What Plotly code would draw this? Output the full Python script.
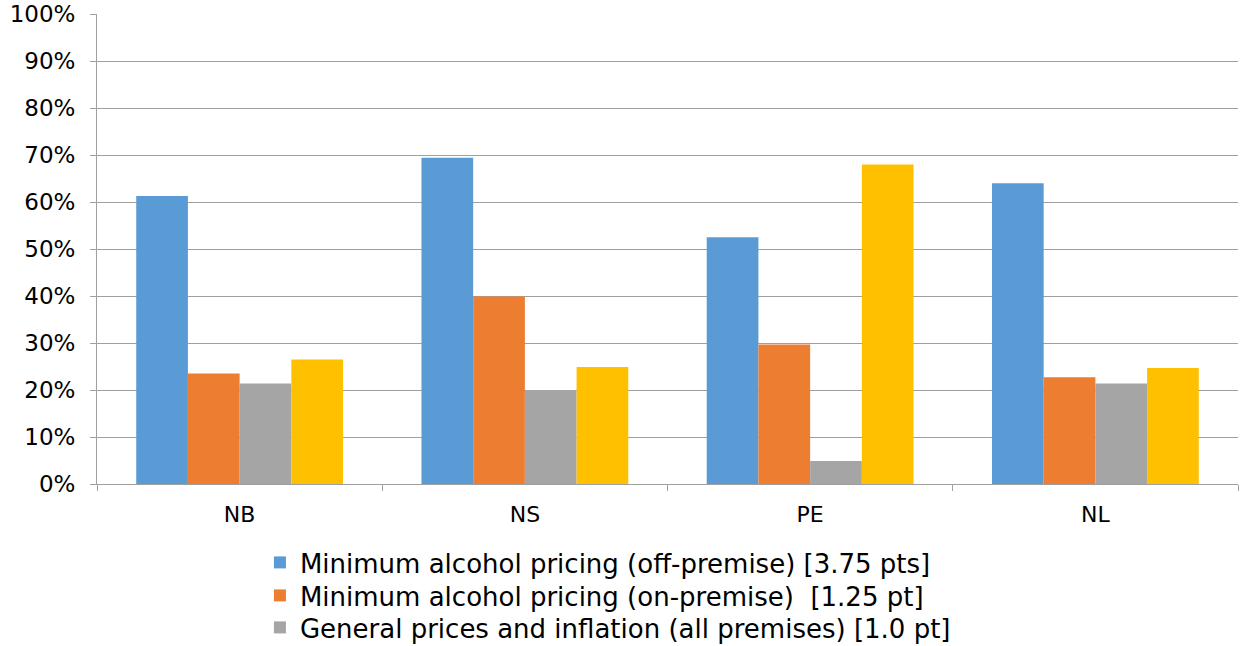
import plotly.graph_objects as go

provinces = ["NB", "NS", "PE", "NL"]

off_premise = [61.3, 69.4, 52.5, 64.0]
on_premise = [23.5, 39.9, 29.7, 22.7]
general_prices = [21.4, 20.0, 4.9, 21.4]
fourth_series = [26.5, 24.9, 68.0, 24.7]

series_names = [
    "Minimum alcohol pricing (off-premise) [3.75 pts]",
    "Minimum alcohol pricing (on-premise)  [1.25 pt]",
    "General prices and inflation (all premises) [1.0 pt]",
    "Other",
]
series_values = [off_premise, on_premise, general_prices, fourth_series]
series_colors = ["#5B9BD5", "#ED7D31", "#A5A5A5", "#FFC000"]
series_legends = ["legend", "legend2", "legend3", None]

tick_vals = [0, 10, 20, 30, 40, 50, 60, 70, 80, 90, 100]
tick_text = [f"{v}%" for v in tick_vals]

FONT = "DejaVu Sans"

fig = go.Figure()
for name, vals, color, leg in zip(series_names, series_values, series_colors, series_legends):
    kw = dict(legend=leg) if leg else dict(showlegend=False)
    fig.add_trace(go.Bar(
        x=provinces, y=vals, name=name,
        marker=dict(color=color, line=dict(width=0)),
        **kw,
    ))


def legend_box(top_px):
    # one legend row per series, stacked under the plot
    return dict(
        orientation="v", x=0.1428, xanchor="left",
        yref="container", y=1 - top_px / 646, yanchor="top",
        font=dict(size=26, family=FONT), itemwidth=30,
        bgcolor="rgba(0,0,0,0)", borderwidth=0,
    )


fig.update_layout(
    width=1242, height=646,
    margin=dict(l=97, r=4, t=14, b=162, autoexpand=False),
    paper_bgcolor="white", plot_bgcolor="white",
    barmode="group", bargap=0.275, bargroupgap=0,
    font=dict(family=FONT, color="#000000", size=22),
    legend=legend_box(539),
    legend2=legend_box(572),
    legend3=legend_box(604),
    xaxis=dict(
        showgrid=False, showline=True, linecolor="#A0A0A0", linewidth=1,
        ticks="outside", tickson="boundaries", ticklen=6, tickcolor="#A0A0A0",
        tickfont=dict(size=22, family=FONT), ticklabelstandoff=11,
        fixedrange=True,
    ),
    yaxis=dict(
        range=[0, 100], tickvals=tick_vals, ticktext=tick_text,
        showgrid=True, gridcolor="#A0A0A0", gridwidth=1,
        showline=True, linecolor="#A0A0A0", linewidth=1,
        ticks="outside", ticklen=6, tickcolor="#A0A0A0",
        tickfont=dict(size=23, family=FONT), ticklabelstandoff=10,
        zeroline=False,
    ),
)

fig.write_html("out.html")
